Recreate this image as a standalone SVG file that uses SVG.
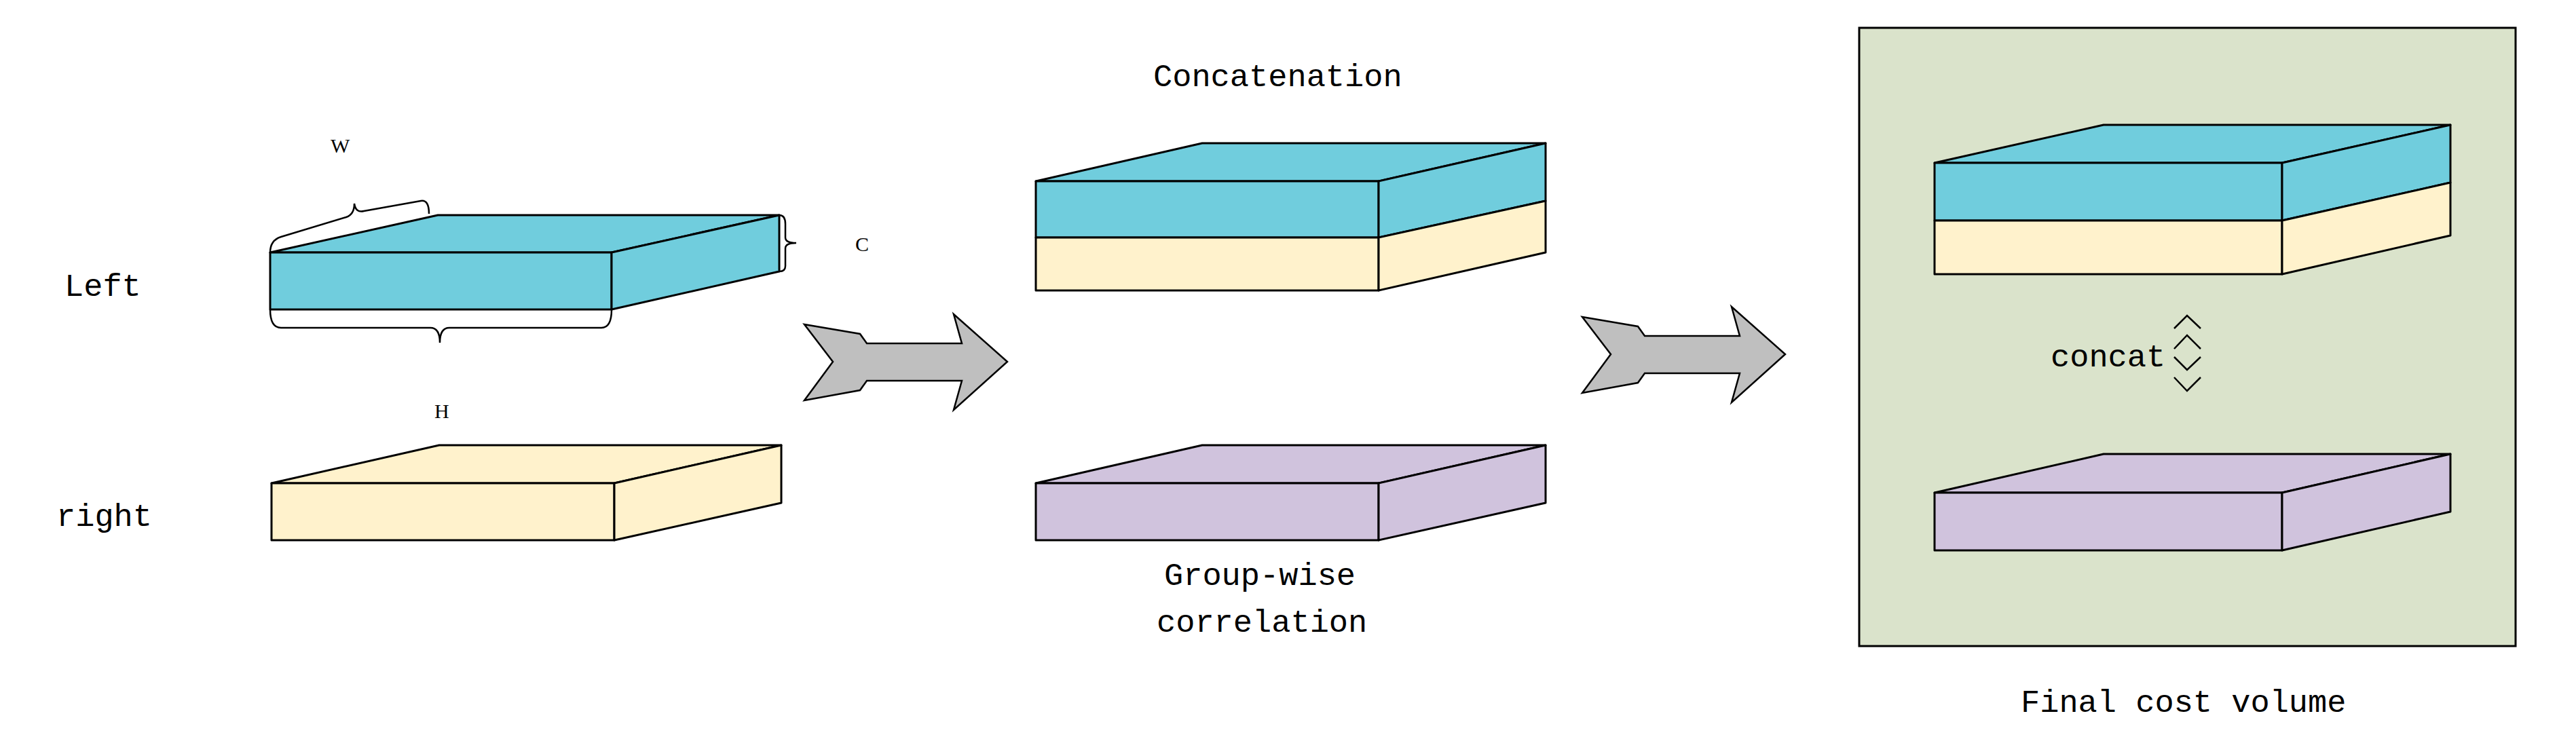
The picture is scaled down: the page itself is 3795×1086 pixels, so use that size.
<svg xmlns="http://www.w3.org/2000/svg" width="3795" height="1086" viewBox="0 0 3795 1086">
<style>
.s{stroke:#000;stroke-width:3;stroke-linejoin:round}
.cy{fill:#70cddd}.ye{fill:#fff2cc}.pu{fill:#d0c3dd}
.ar{fill:#bfbfbf;stroke:#000;stroke-width:2.5}
.br{fill:none;stroke:#000;stroke-width:2.5}
.t{font-family:"Liberation Mono",monospace;font-size:47px;fill:#000}
.sm{font-family:"Liberation Serif",serif;font-size:30px;fill:#000}
</style>
<rect width="3795" height="1086" fill="#fff"/>
<g id="panel"><rect x="2739" y="41" width="967" height="911" fill="#dae3cb" stroke="#000" stroke-width="3"/></g>
<g id="left-volume">
<polygon class="s cy" points="398,372 645,317 1148,317 901,372"/>
<polygon class="s cy" points="398,372 901,372 901,456 398,456"/>
<polygon class="s cy" points="901,372 1148,317 1148,400 901,456"/>
</g>
<g id="braces">
<path class="br" d="M398,372 Q398,354 414,349 L510,320 Q522,316 522,300 Q524,314 536,311 L620,296 Q632,294 632,315"/>
<path class="br" d="M398,456 Q398,483 414,483 L634,483 Q648,483 648,505 Q648,483 662,483 L886,483 Q901,483 901,456"/>
<path class="br" d="M1148,317 Q1157,317 1157,330 L1157,350 Q1157,358 1173,358 Q1157,358 1157,366 L1157,392 Q1157,400 1148,400"/>
<text class="sm" x="487" y="225">W</text>
<text class="sm" x="1260" y="370">C</text>
<text class="sm" x="640" y="616">H</text>
</g>
<g id="right-volume">
<polygon class="s ye" points="400,712 647,656 1151,656 905,712"/>
<polygon class="s ye" points="400,712 905,712 905,796 400,796"/>
<polygon class="s ye" points="905,712 1151,656 1151,741 905,796"/>
</g>
<text class="t" x="95" y="436">Left</text>
<text class="t" x="83" y="775">right</text>
<g id="concatenation">
<polygon class="s cy" points="1526,267 1771,211 2277,211 2031,267"/>
<polygon class="s cy" points="1526,267 2031,267 2031,350 1526,350"/>
<polygon class="s ye" points="1526,350 2031,350 2031,428 1526,428"/>
<polygon class="s cy" points="2031,267 2277,211 2277,296 2031,350"/>
<polygon class="s ye" points="2031,350 2277,296 2277,372 2031,428"/>
<text class="t" x="1699" y="127">Concatenation</text>
</g>
<g id="groupwise">
<polygon class="s pu" points="1526,712 1771,656 2277,656 2031,712"/>
<polygon class="s pu" points="1526,712 2031,712 2031,796 1526,796"/>
<polygon class="s pu" points="2031,712 2277,656 2277,741 2031,796"/>
<text class="t" x="1715" y="862">Group-wise</text>
<text class="t" x="1704" y="931">correlation</text>
</g>
<g id="final-concat">
<polygon class="s cy" points="2850,240 3099,184 3610,184 3362,240"/>
<polygon class="s cy" points="2850,240 3362,240 3362,325 2850,325"/>
<polygon class="s ye" points="2850,325 3362,325 3362,404 2850,404"/>
<polygon class="s cy" points="3362,240 3610,184 3610,269 3362,325"/>
<polygon class="s ye" points="3362,325 3610,269 3610,347 3362,404"/>
</g>
<g id="final-gwc">
<polygon class="s pu" points="2850,726 3099,669 3610,669 3362,726"/>
<polygon class="s pu" points="2850,726 3362,726 3362,811 2850,811"/>
<polygon class="s pu" points="3362,726 3610,669 3610,754 3362,811"/>
</g>
<g id="concat-label">
<text class="t" x="3021" y="540">concat</text>
<path class="br" stroke-width="2" d="M3203,484 L3222,465 L3242,484 M3203,514 L3222,494 L3242,514 M3203,526 L3222,545 L3242,526 M3203,556 L3222,576 L3242,556"/>
</g>
<text class="t" x="2977" y="1049">Final cost volume</text>
<g id="connectors">
<polygon class="ar" points="1185,478 1267,492 1277,506 1417,506 1405,463 1484,533 1405,604 1417,561 1277,561 1267,575 1185,590 1227,533"/>
<polygon class="ar" points="2331,467 2413,481 2423,495 2563,495 2551,452 2630,522 2551,593 2563,550 2423,550 2413,564 2331,579 2373,522"/>
</g>
</svg>
